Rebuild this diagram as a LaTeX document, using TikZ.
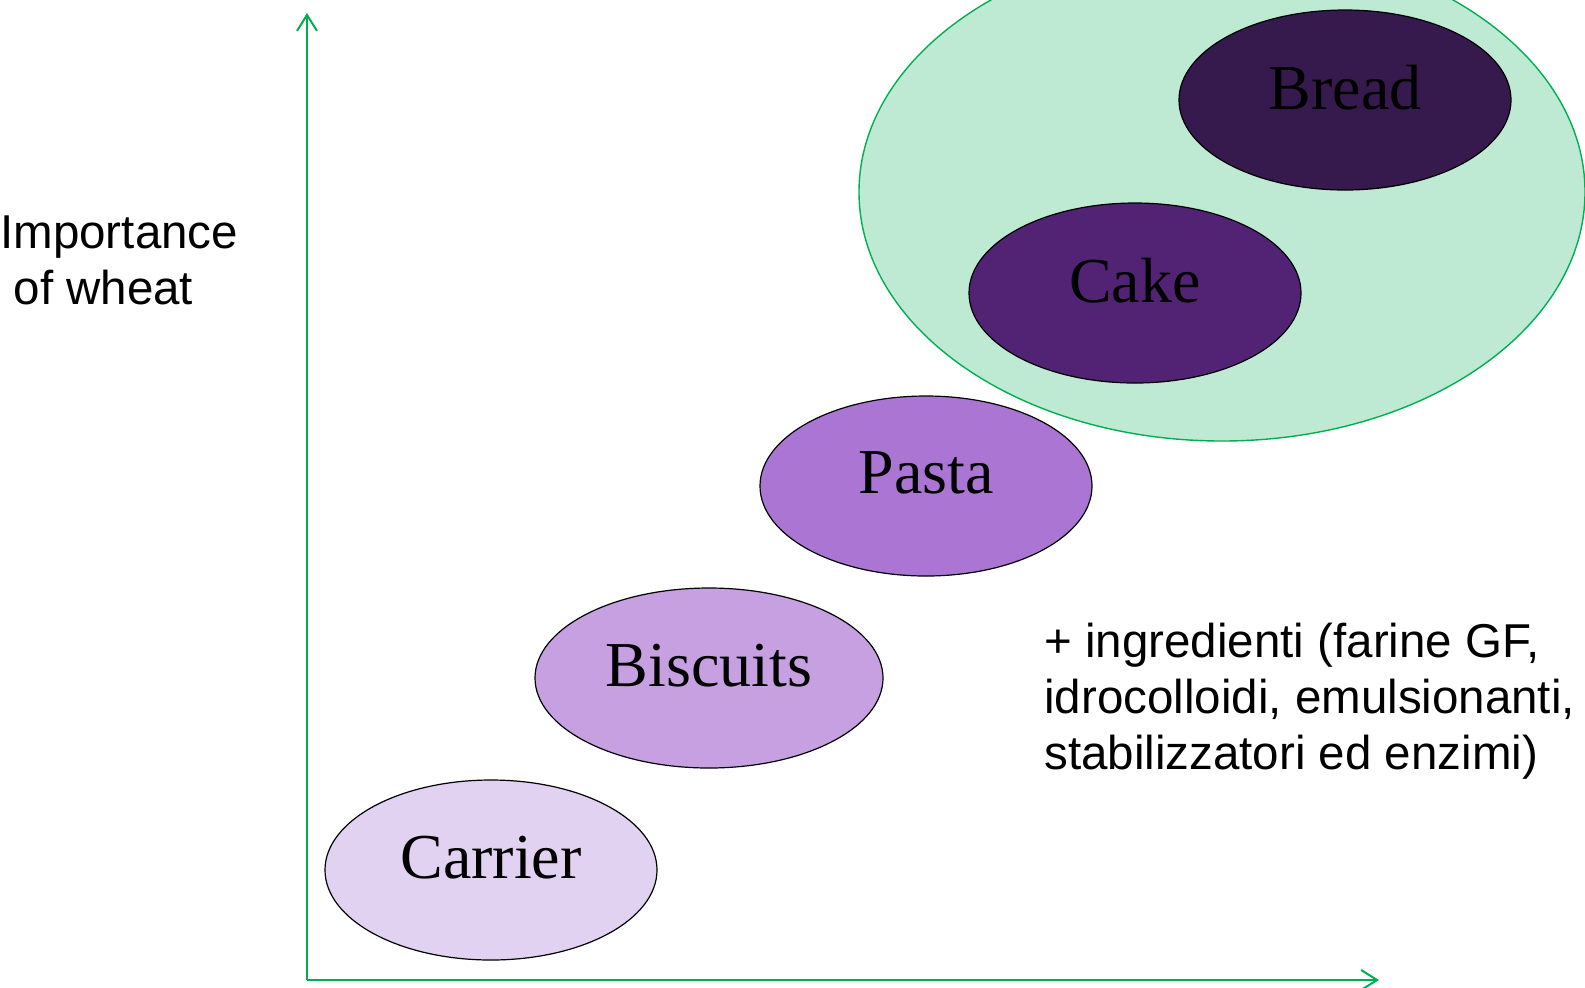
\documentclass[tikz,border=0pt]{standalone}
\usepackage{fontspec}
\setmainfont{Liberation Serif}
\newfontfamily\arialfont{Liberation Sans}
\usetikzlibrary{shapes.geometric,arrows.meta}

\definecolor{axisgreen}{RGB}{0,176,80}
\definecolor{zonegreen}{RGB}{190,234,212}
\definecolor{breadcol}{RGB}{54,26,78}
\definecolor{cakecol}{RGB}{82,35,116}
\definecolor{pastacol}{RGB}{171,117,212}
\definecolor{biscuitcol}{RGB}{199,160,225}
\definecolor{carriercol}{RGB}{225,210,241}

\begin{document}
\begin{tikzpicture}[x=0.5pt,y=-0.5pt,
	fooditem/.style={ellipse,draw=black,line width=0.6pt,minimum width=166pt,minimum height=90pt,inner sep=0pt,font=\fontsize{32}{34}\selectfont},
	axis/.style={draw=axisgreen,line width=1pt,-{Straight Barb[length=8pt,width=10pt,line width=1pt]}},
	sidetext/.style={inner sep=0pt,align=left,font=\arialfont\fontsize{23.75}{27.8}\selectfont}]
	\useasboundingbox (0,0) rectangle (1585,987);
	\clip (0,0) rectangle (1585,987);

	%Shape: Ellipse [id:gluten zone]
	\node [ellipse,draw=axisgreen,fill=zonegreen,line width=0.7pt,minimum width=363pt,minimum height=249pt,inner sep=0pt] (zone) at (1222,192) {};

	%Shape: Ellipse [id:food items]
	\node [fooditem,fill=breadcol] (bread) at (1345,100) {\raisebox{13pt}{Bread}};
	\node [fooditem,fill=cakecol] (cake) at (1135,293) {\raisebox{13pt}{Cake}};
	\node [fooditem,fill=pastacol] (pasta) at (926,486) {\raisebox{13pt}{Pasta}};
	\node [fooditem,fill=biscuitcol,minimum width=174pt] (biscuits) at (709,678) {\raisebox{13pt}{Biscuits}};
	\node [fooditem,fill=carriercol] (carrier) at (491,870) {\raisebox{13pt}{Carrier}\hspace{12pt}};

	%Straight Lines [id:axes]
	\coordinate (origin) at (307,980);
	\coordinate (ytip) at (307,13);
	\coordinate (xtip) at (1379,980);
	\draw [axis] (origin) -- (ytip);
	\draw [axis] (origin) -- (xtip);

	% Text Node (base = last line)
	\node [sidetext,anchor=base west] (ylabel) at (0,304) {Importance\\\ of wheat};
	% Text Node
	\node [sidetext,anchor=base west] (extras) at (1044,769) {+ ingredienti (farine GF,\\idrocolloidi, emulsionanti,\\stabilizzatori ed enzimi)};
\end{tikzpicture}
\end{document}
